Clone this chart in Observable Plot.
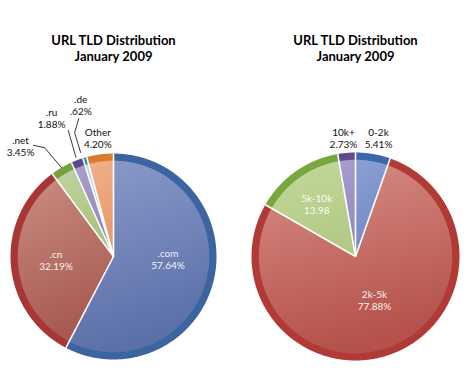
<!DOCTYPE html>
<html><head><meta charset="utf-8">
<script src="https://cdn.jsdelivr.net/npm/d3@7"></script>
<script src="https://cdn.jsdelivr.net/npm/@observablehq/plot@0.6"></script>
<style>
body{margin:0;background:#fff;}
#row{display:flex;width:471px;height:371px;}
</style></head><body><div id="row"></div>
<script>
// ---- data ----
const leftTitle = "URL TLD Distribution\nJanuary 2009";
const leftCats = [".com", ".cn", ".net", ".ru", ".de", "Other"];
const leftValues = [57.64, 32.19, 3.45, 1.88, 0.62, 4.20];
const leftValueLabels = ["57.64%", "32.19%", "3.45%", "1.88%", ".62%", "4.20%"];

const rightTitle = "URL TLD Distribution\nJanuary 2009";
const rightCats = ["0-2k", "2k-5k", "5k-10k", "10k+"];
const rightValues = [5.41, 77.88, 13.98, 2.73];
const rightValueLabels = ["5.41%", "77.88%", "13.98", "2.73%"];

// ---- styles / layout ----
const leftStyle = {
  id: "L", width: 235, cx: 113, cy: 256, r: 103,
  outer: ["#3b64a0", "#a83634", "#78a040", "#5c4a8c", "#2e90b8", "#dc7a2c"],
  innerTop: ["#8d9aca", "#c98c80", "#c0d3a0", "#ab9fcc", "#b4dcea", "#f0b189"],
  innerBot: ["#5b70a9", "#a85a52", "#a8c07c", "#9184bb", "#9ccfe0", "#e89a6a"],
  inside: [true, true, false, false, false, false],
  labelShift: [-10.7, 0.6, -9.8, -3.4, 4.0, 0],
  labelR: [0.53, 0.56, 1.40, 1.47, 1.50, 1.16],
  leaders: [null, null, [[0, 1.0], [-2, 1.25], [-5.4, 1.33]], [[0, 1.03], [1, 1.30]], [[-1.3, 1.06], [-1.2, 1.26], [2.1, 1.38]], null]
};
const rightStyle = {
  id: "R", width: 236, cx: 120, cy: 256, r: 104,
  outer: ["#3a68aa", "#b23a36", "#7aa63e", "#5e4a8c"],
  innerTop: ["#8a9fd4", "#d68e85", "#c3d89c", "#a89dcc"],
  innerBot: ["#7189c6", "#b5524c", "#b2ca85", "#958ac0"],
  inside: [false, true, true, false],
  labelShift: [1.3, -3, -1.3, -0.9],
  labelR: [1.156, 0.46, 0.63, 1.14],
  leaders: [null, null, null, null]
};

function polar(deg, r) {
  const a = deg * Math.PI / 180;
  return {x: r * Math.sin(a), y: r * Math.cos(a)};
}

function makePie(title, cats, values, valueLabels, st) {
  const arcs = d3.pie().sort(null).value(d => d)(values);
  const slices = arcs.map((a, i) => ({i, name: cats[i], a0: a.startAngle * 180 / Math.PI, a1: a.endAngle * 180 / Math.PI}));
  const sector = (s, r) => {
    const pts = [{x: 0, y: 0}];
    const n = Math.max(2, Math.ceil((s.a1 - s.a0) / 0.5));
    for (let k = 0; k <= n; k++) pts.push(polar(s.a0 + (s.a1 - s.a0) * k / n, r));
    return pts;
  };
  const marks = [];
  slices.forEach(s => {
    marks.push(Plot.line(sector(s, 1), {x: "x", y: "y", curve: "linear-closed", fill: st.outer[s.i], stroke: "none"}));
    marks.push(Plot.line(sector(s, 0.93), {x: "x", y: "y", curve: "linear-closed", fill: `url(#${st.id}g${s.i})`, stroke: "none"}));
  });
  // separators
  const seps = slices.map(s => ({...polar(s.a0, 1.0)}));
  marks.push(Plot.link(seps, {x1: () => 0, y1: () => 0, x2: "x", y2: "y", stroke: "white", strokeWidth: 1.6}));
  // leaders
  slices.forEach(s => {
    const L = st.leaders[s.i];
    if (!L) return;
    const mid = (s.a0 + s.a1) / 2;
    marks.push(Plot.line(L.map(([da, r]) => polar(mid + da, r)), {x: "x", y: "y", stroke: "#222", strokeWidth: 0.9}));
  });
  // labels
  const labels = slices.map(s => {
    const mid = (s.a0 + s.a1) / 2;
    const p = polar(mid + st.labelShift[s.i], st.labelR[s.i]);
    return {...p, text: s.name + "\n" + valueLabels[s.i], inside: st.inside[s.i]};
  });
  marks.push(Plot.text(labels.filter(d => d.inside), {x: "x", y: "y", text: "text", fill: "white", fontSize: 10, lineHeight: 1.2, fontFamily: "Lato", fillOpacity: 0.95}));
  marks.push(Plot.text(labels.filter(d => !d.inside), {x: "x", y: "y", text: "text", fill: "#111", fontSize: 10, lineHeight: 1.2, fontFamily: "Lato"}));
  // title
  marks.push(Plot.text([{x: 0}], {x: "x", frameAnchor: "top", lineAnchor: "top", dy: 33, text: () => title, fontWeight: "bold", fontSize: 13, lineHeight: 1.22, fontFamily: "Lato", fill: "#000"}));

  const svg = Plot.plot({
    width: st.width, height: 371,
    marginTop: 0, marginBottom: 0, marginLeft: 0, marginRight: 0,
    x: {domain: [-1, 1], range: [st.cx - st.r, st.cx + st.r], axis: null},
    y: {domain: [-1, 1], range: [st.cy + st.r, st.cy - st.r], axis: null},
    style: {background: "white", overflow: "visible"},
    marks
  });
  const defs = d3.select(svg).insert("defs", ":first-child");
  slices.forEach(s => {
    const g = defs.append("linearGradient").attr("id", `${st.id}g${s.i}`)
      .attr("x1", 0).attr("y1", 0).attr("x2", 0.25).attr("y2", 1);
    g.append("stop").attr("offset", "0%").attr("stop-color", st.innerTop[s.i]);
    g.append("stop").attr("offset", "100%").attr("stop-color", st.innerBot[s.i]);
  });
  return svg;
}

const row = document.getElementById("row");
row.appendChild(makePie(leftTitle, leftCats, leftValues, leftValueLabels, leftStyle));
row.appendChild(makePie(rightTitle, rightCats, rightValues, rightValueLabels, rightStyle));
</script>
</body></html>
